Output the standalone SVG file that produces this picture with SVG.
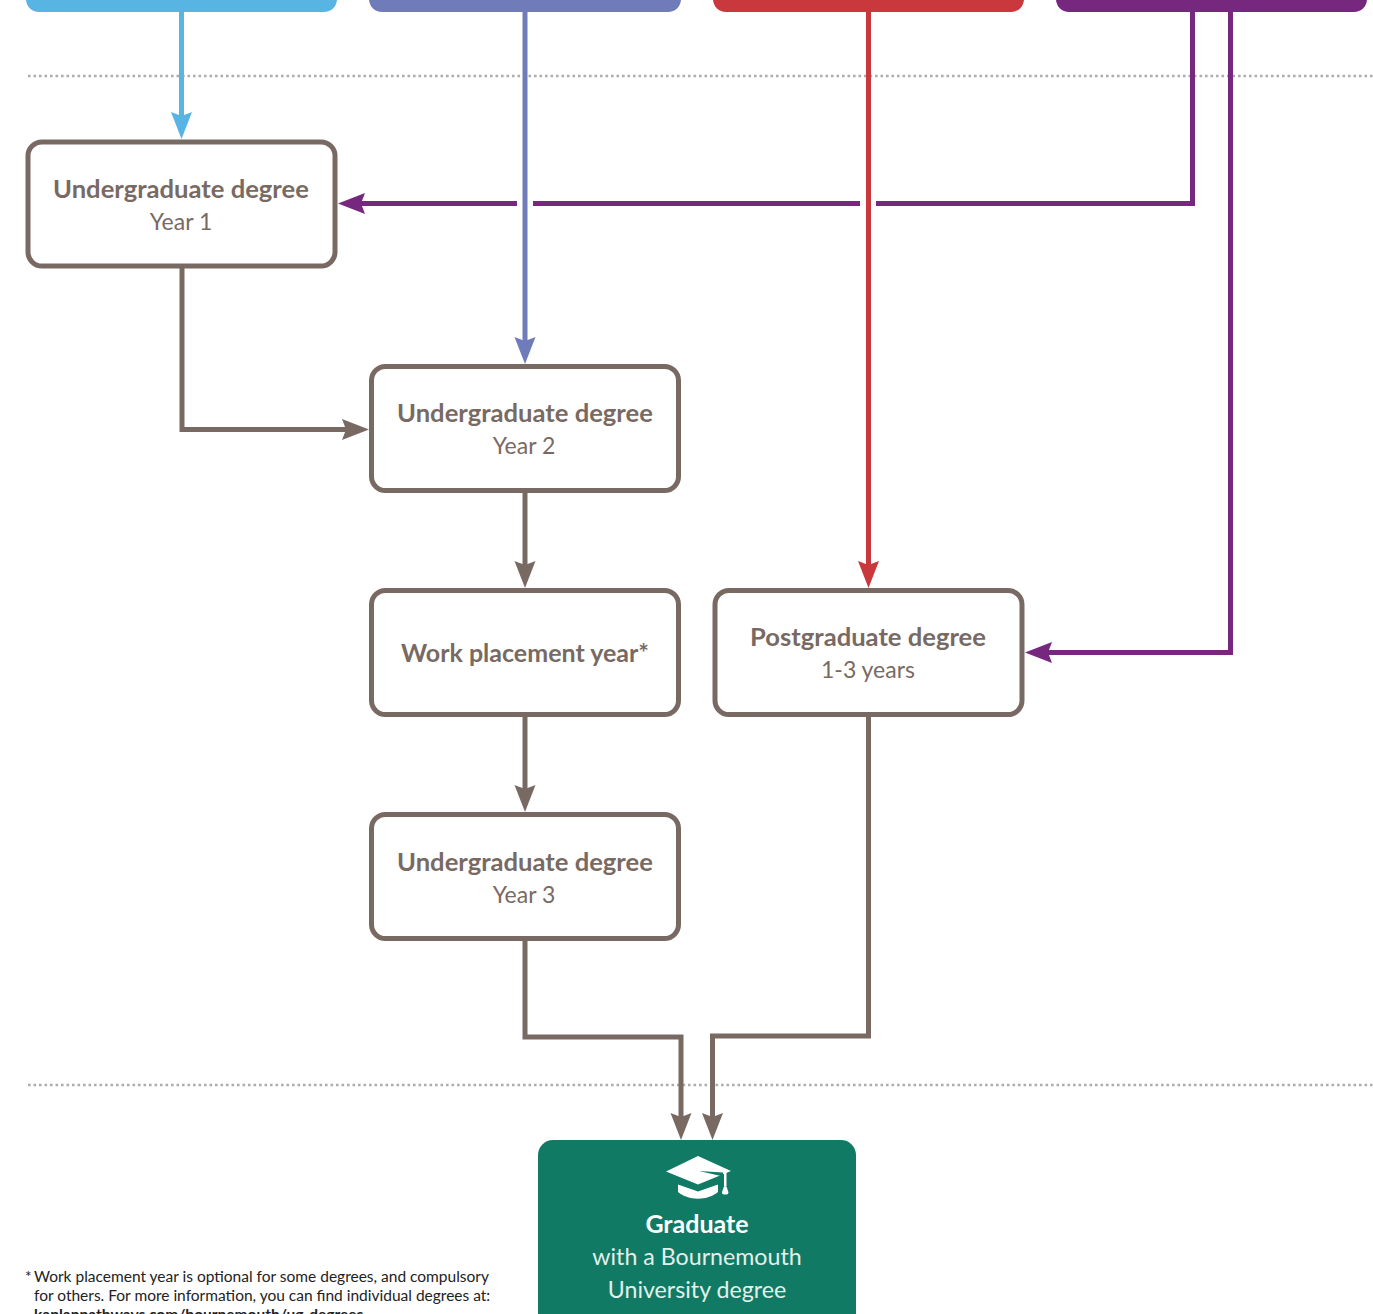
<svg xmlns="http://www.w3.org/2000/svg" width="1373" height="1314" viewBox="0 0 1373 1314">
<style>
text{font-family:"Lato","Liberation Sans",sans-serif;text-anchor:middle}
.box{fill:#fff;stroke:#786a63;stroke-width:5}
.t{font-size:25.6px;font-weight:700;fill:#786a63}
.s{font-size:23px;fill:#786a63}
.dot{fill:none;stroke:#adadad;stroke-width:2.6;stroke-dasharray:2.6 2.9}
.c{fill:none;stroke-width:5;stroke-linejoin:miter}
.g{stroke:#786a63}.b{stroke:#58b4e3}.i{stroke:#707cba}.r{stroke:#c9383c}.p{stroke:#76287f}
.w{font-size:23.2px;fill:#e2f0ea}
.f{font-size:15.5px;fill:#222;text-anchor:start}
</style>
<defs>
<path id="ah" d="M0 0L-27 -10.500L-23 0L-27 10.500Z"/>
</defs>
<rect width="1373" height="1314" fill="#fff"/>
<path class="dot" d="M28 76H1373M28 1085H1373"/>
<g id="header-1"><rect x="26" y="-20" width="311" height="32" rx="13" fill="#58b4e3"/></g>
<g id="header-2"><rect x="369" y="-20" width="312" height="32" rx="13" fill="#707cba"/></g>
<g id="header-3"><rect x="713" y="-20" width="311" height="32" rx="13" fill="#c9383c"/></g>
<g id="header-4"><rect x="1056" y="-20" width="311" height="32" rx="13" fill="#76287f"/></g>
<g id="connectors">
<path class="c b" d="M181.500 12V118" stroke-width="6"/><use href="#ah" transform="translate(181.500 139) rotate(90)" fill="#58b4e3"/>
<path class="c p" d="M1192.500 12V203.500H876M860 203.500H533M517 203.500H360"/><use href="#ah" transform="translate(338 203.500) rotate(180)" fill="#76287f"/>
<path class="c i" d="M525 12V342"/><use href="#ah" transform="translate(525 364) rotate(90)" fill="#707cba"/>
<path class="c r" d="M868.500 12V566"/><use href="#ah" transform="translate(868.500 588) rotate(90)" fill="#c9383c"/>
<path class="c p" d="M1230.500 12V652.500H1048"/><use href="#ah" transform="translate(1025 652.500) rotate(180)" fill="#76287f"/>
<path class="c g" d="M182 266V429.500H348"/><use href="#ah" transform="translate(369 429.500)" fill="#786a63"/>
<path class="c g" d="M525 490V566"/><use href="#ah" transform="translate(525 588) rotate(90)" fill="#786a63"/>
<path class="c g" d="M525 714V790"/><use href="#ah" transform="translate(525 812) rotate(90)" fill="#786a63"/>
<path class="c g" d="M525 938V1037H681V1118"/><use href="#ah" transform="translate(681 1140) rotate(90)" fill="#786a63"/>
<path class="c g" d="M868.500 714V1036H712.500V1118"/><use href="#ah" transform="translate(712.500 1140) rotate(90)" fill="#786a63"/>
</g>
<g id="node-year1"><rect class="box" x="28" y="142" width="307" height="124" rx="14"/><text class="t" x="181" y="198">Undergraduate degree</text><text class="s" x="181" y="230">Year 1</text></g>
<g id="node-year2"><rect class="box" x="371.500" y="366.500" width="307" height="124" rx="14"/><text class="t" x="525" y="422">Undergraduate degree</text><text class="s" x="524" y="454">Year 2</text></g>
<g id="node-work"><rect class="box" x="371.500" y="590.500" width="307" height="124" rx="14"/><text class="t" x="525" y="662" style="font-size:25px">Work placement year*</text></g>
<g id="node-post"><rect class="box" x="715" y="590.500" width="307" height="124" rx="14"/><text class="t" x="868" y="646">Postgraduate degree</text><text class="s" x="868" y="678">1-3 years</text></g>
<g id="node-year3"><rect class="box" x="371.500" y="814.500" width="307" height="124" rx="14"/><text class="t" x="525" y="871">Undergraduate degree</text><text class="s" x="524" y="903">Year 3</text></g>
<g id="node-graduate"><rect x="538" y="1140" width="318" height="200" rx="15" fill="#117a65"/>
<path fill="#fff" d="M666 1171.500L698 1156L731 1171L698 1184.500Z"/>
<path fill="#117a65" d="M699 1171L723 1172.500V1176L721 1176Z"/>
<path fill="#fff" d="M678 1184.500L698 1191.500L718 1184.500V1192C713 1196 706 1198.700 698 1198.700C690 1198.700 683 1196 678 1192Z"/>
<path fill="#fff" d="M724 1172.500h2.500v14h-2.500zM725.200 1186.500a2 2 0 0 1 2 2l1.300 4a2.200 2.200 0 0 1-2 2h-2.600a2.200 2.200 0 0 1-2-2l1.300-4a2 2 0 0 1 2-2z"/>
<text x="697" y="1233" font-size="25" font-weight="700" fill="#fff">Graduate</text>
<text class="w" x="697" y="1265">with a Bournemouth</text>
<text class="w" x="697" y="1298">University degree</text></g>
<g id="footnote"><text class="f" x="25" y="1282" font-size="11">*</text><text class="f" x="34" y="1282">Work placement year is optional for some degrees, and compulsory</text><text class="f" x="34" y="1301">for others. For more information, you can find individual degrees at:</text><text class="f" x="34" y="1320" font-weight="700">kaplanpathways.com/bournemouth/ug-degrees</text></g>
</svg>
